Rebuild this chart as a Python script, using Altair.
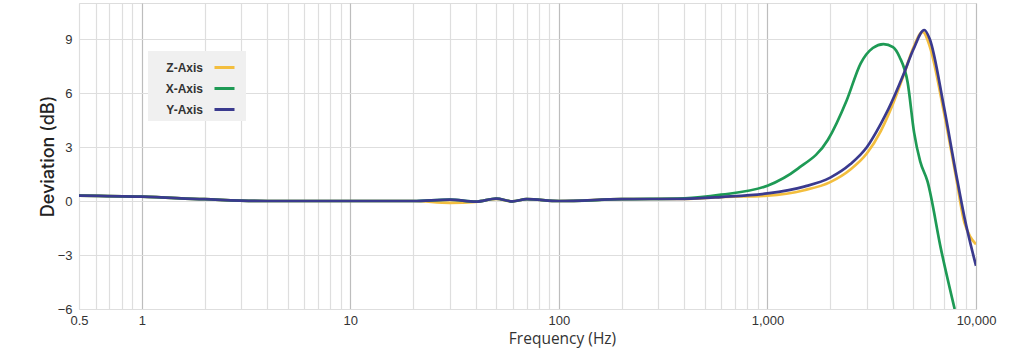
import altair as alt
import pandas as pd

# Frequency (Hz) and deviation (dB)
z_freq = [0.5, 1, 2, 4, 10, 20, 30, 40, 50, 60, 70, 100, 200, 400, 600, 1000, 1500, 2000, 2500, 3000, 3500, 4000, 4500, 5000, 5560, 6000, 7000, 8000, 8800, 9400, 10000]
z_dev = [0.3, 0.24, 0.1, 0.0, 0.0, 0.0, -0.1, -0.05, 0.12, -0.02, 0.1, 0.0, 0.1, 0.12, 0.22, 0.3, 0.6, 1.05, 1.75, 2.65, 3.9, 5.4, 7.0, 8.5, 9.4, 8.6, 5.0, 1.4, -1.2, -2.0, -2.4]

x_freq = [0.5, 1, 2, 4, 10, 20, 30, 40, 50, 60, 70, 100, 200, 400, 600, 1000, 1400, 1950, 2400, 2800, 3200, 3600, 4000, 4300, 4700, 5050, 5400, 5850, 6800, 7900]
x_dev = [0.3, 0.24, 0.1, 0.0, 0.0, 0.0, 0.08, -0.04, 0.13, -0.02, 0.1, 0.0, 0.1, 0.15, 0.35, 0.85, 1.8, 3.4, 5.6, 7.65, 8.5, 8.72, 8.55, 8.0, 6.6, 3.8, 2.2, 1.1, -2.7, -6.0]

y_freq = [0.5, 1, 2, 4, 10, 20, 30, 40, 50, 60, 70, 100, 200, 400, 600, 1000, 1500, 2000, 2500, 3000, 3500, 3800, 4500, 5000, 5650, 6000, 7000, 8000, 8800, 10000]
y_dev = [0.3, 0.24, 0.1, 0.0, 0.0, 0.0, 0.08, -0.04, 0.13, -0.02, 0.1, 0.0, 0.1, 0.12, 0.22, 0.42, 0.8, 1.3, 2.05, 3.0, 4.3, 5.1, 7.05, 8.4, 9.5, 9.0, 5.3, 1.6, -0.9, -3.6]

series = ["Z-Axis", "X-Axis", "Y-Axis"]
colors = ["#F3BE3E", "#1E9A55", "#3A3A8E"]

x_ticks = [0.5, 1, 10, 100, 1000, 10000]
y_ticks = [-6, -3, 0, 3, 6, 9]
grid_freqs = [m * 10 ** e for e in range(-1, 4) for m in range(1, 10) if m * 10 ** e >= 0.5] + [10000]
major_freqs = [1, 10, 100, 1000, 10000]

rows = []
for name, fr, dv in [("Z-Axis", z_freq, z_dev), ("X-Axis", x_freq, x_dev), ("Y-Axis", y_freq, y_dev)]:
    for f, d in zip(fr, dv):
        rows.append({"series": name, "freq": f, "dev": d})
df = pd.DataFrame(rows)

label_test = " || ".join(f"abs(datum.value - {v}) < 1e-6" for v in x_ticks)
major_test = " || ".join(f"abs(datum.value - {v}) < 1e-6" for v in major_freqs)

chart = alt.Chart(df).mark_line(strokeWidth=2.7, interpolate="monotone", clip=True).encode(
    x=alt.X("freq:Q", scale=alt.Scale(type="log", domain=[0.5, 10000], nice=False),
            axis=alt.Axis(values=grid_freqs, labelExpr=f"({label_test}) ? format(datum.value, ',') : ''",
                          title="Frequency (Hz)", titleX=483, titleY=22, titleAnchor="middle",
                          titleBaseline="top", titleFont="Open Sans", titleFontSize=15.5,
                          titleFontWeight="normal", titleColor="#333",
                          labelFont="Liberation Sans", labelFontSize=13, labelColor="#333",
                          labelPadding=5, ticks=False, domain=False, labelFlush=False,
                          gridColor=alt.ExprRef(f"({major_test}) ? '#bdbdbd' : '#dedede'"),
                          gridWidth=1.2)),
    y=alt.Y("dev:Q", scale=alt.Scale(domain=[-6, 11], nice=False, zero=False),
            axis=alt.Axis(values=y_ticks, title="Deviation (dB)", titleFont="Inter",
                          titleFontSize=18, titleFontWeight=500, titleColor="#222",
                          titlePadding=0,
                          labelFont="Liberation Sans", labelFontSize=13, labelColor="#333",
                          labelPadding=7, ticks=False, domain=False, gridColor="#dedede",
                          gridWidth=1.2)),
    color=alt.Color("series:N", scale=alt.Scale(domain=series, range=colors),
                    legend=alt.Legend(title=None, orient="none", legendX=69, legendY=48,
                                      fillColor="#f0f0f0", padding=5, symbolType="stroke",
                                      symbolSize=400, symbolStrokeWidth=3,
                                      labelAlign="right", labelOffset=alt.ExprRef("-33"),
                                      symbolOffset=60,
                                      labelFont="Liberation Sans", labelFontSize=12,
                                      labelFontWeight="bold", labelColor="#333",
                                      rowPadding=3)),
    order=alt.Order("freq:Q"),
).properties(
    width=897, height=306,
    padding={"left": 79, "top": 3, "right": 48, "bottom": 46},
    autosize="none",
).configure_view(stroke="#aaaaaa", strokeWidth=1).configure(background="white")

chart.save("out.html", embed_options={"renderer": "svg", "actions": False})
